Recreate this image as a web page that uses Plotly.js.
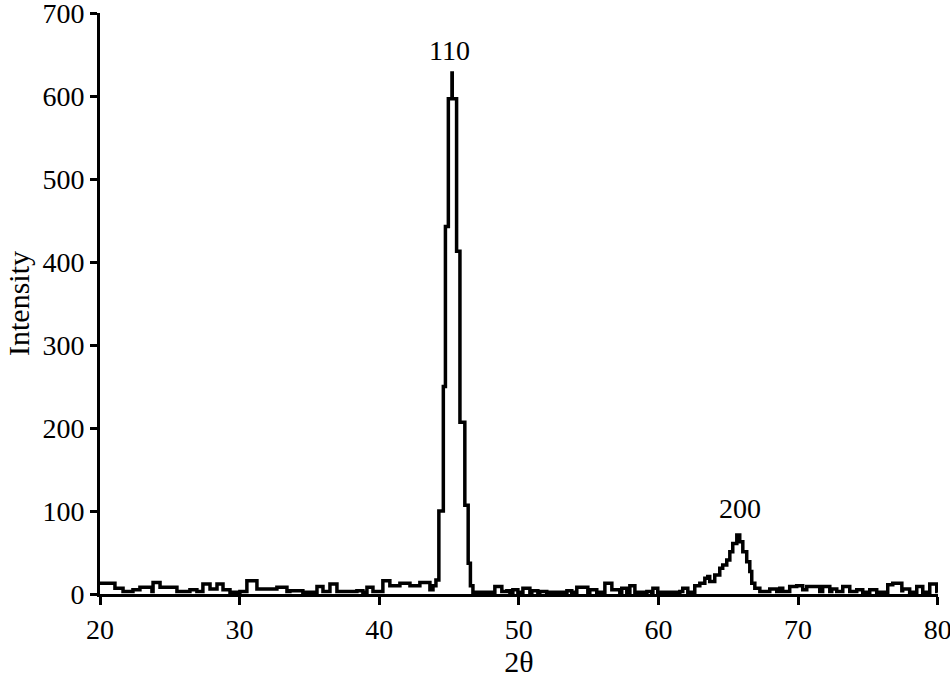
<!DOCTYPE html>
<html>
<head>
<meta charset="utf-8">
<script src="https://cdn.plot.ly/plotly-3.0.1.min.js"></script>
<style>
  html, body { margin: 0; padding: 0; background: #fff; }
  #chart { width: 950px; height: 679px; }
</style>
</head>
<body>
<div id="chart"></div>
<script>
// ----- data (2θ in degrees, intensity in counts) -----
const twoTheta = [
  20.00, 21.07, 21.65, 22.36, 22.86, 23.72, 23.80, 24.30, 25.51, 26.44,
  26.94, 27.37, 27.88, 28.38, 28.81, 29.31, 29.81, 30.02, 30.52, 31.24,
  32.67, 33.39, 33.60, 34.53, 35.54, 35.97, 36.47, 36.97, 38.40, 38.83,
  39.12, 39.55, 40.26, 40.76, 41.48, 42.20, 42.91, 43.63, 43.85,
  44.06, 44.27, 44.59, 44.74, 44.95, 45.21, 45.23, 45.54, 45.78, 46.13,
  46.37, 46.53, 46.71,
  48.28, 48.78, 49.14, 49.36, 49.57, 49.93, 50.29, 50.79, 50.93, 51.36,
  51.50, 52.00, 53.44, 53.79, 54.15, 54.94, 55.08, 55.58, 56.16, 56.66,
  57.23, 57.37, 57.73, 57.95, 58.31, 59.17, 59.52, 59.60, 59.95, 61.53,
  61.74, 62.10, 62.46, 62.60, 62.96, 63.32, 63.53, 63.67, 64.03, 64.39,
  64.60, 64.89, 65.11, 65.32, 65.61, 65.82, 66.04, 66.32, 66.54, 66.68,
  66.90, 67.26, 67.97, 68.47, 68.69, 68.90, 69.40, 69.90, 70.33, 70.62,
  71.55, 71.76, 72.27, 72.41, 72.77, 73.20, 73.70, 74.20, 74.63, 75.13,
  75.63, 76.42, 76.78, 77.43, 77.49, 77.99, 78.50, 78.93, 79.43, 79.93,
  80.00
];
const intensity = [
  13, 7, 3, 5, 8, 3, 14, 8, 3, 5,
  3, 12, 6, 12, 5, 2, 1, 3, 16, 6,
  8, 3, 4, 2, 9, 3, 12, 3, 4, 2,
  8, 3, 16, 10, 13, 10, 14, 5, 10,
  17, 100, 250, 443, 597, 628, 597, 413, 207, 107,
  37, 10, 2,
  9, 3, 4, 2, 5, 2, 7, 2, 4, 2,
  3, 2, 4, 2, 8, 2, 5, 2, 13, 5,
  2, 7, 2, 10, 2, 3, 2, 7, 2, 3,
  7, 2, 2, 10, 13, 19, 21, 15, 23, 31,
  35, 41, 51, 61, 71, 63, 51, 39, 27, 13,
  7, 3, 6, 3, 7, 3, 9, 10, 5, 9,
  3, 9, 3, 6, 3, 9, 3, 5, 2, 5,
  2, 11, 13, 4, 6, 2, 9, 2, 12, 3,
  2
];

// peak labels (Miller indices)
const peakLabels = ["110", "200"];
const peakX = [45.06, 65.82];
const peakY = [655, 103];

const axisFont = { family: "Liberation Serif, Times New Roman, serif", size: 28, color: "#000" };
const titleFont = { family: "Liberation Serif, Times New Roman, serif", size: 30, color: "#000" };

const trace = {
  x: twoTheta,
  y: intensity,
  type: "scatter",
  mode: "lines",
  line: { color: "#000", width: 3.5, shape: "hv" },
  hoverinfo: "skip"
};

const layout = {
  width: 950,
  height: 679,
  margin: { l: 100, r: 12, t: 13, b: 85 },
  paper_bgcolor: "#fff",
  plot_bgcolor: "#fff",
  showlegend: false,
  font: axisFont,
  xaxis: {
    range: [20, 80.02],
    tickvals: [20, 30, 40, 50, 60, 70, 80],
    ticktext: ["20", "30", "40", "50", "60", "70", "80"],
    ticklabeloverflow: "allow",
    showgrid: false,
    zeroline: false,
    showline: true,
    linecolor: "#000",
    linewidth: 3,
    ticks: "outside",
    ticklen: 8,
    tickwidth: 3,
    tickcolor: "#000",
    tickfont: axisFont,
    title: { text: "2θ", font: titleFont, standoff: 4 }
  },
  yaxis: {
    range: [0, 700.3],
    tickvals: [0, 100, 200, 300, 400, 500, 600, 700],
    ticktext: ["0", "100", "200", "300", "400", "500", "600", "700"],
    ticklabeloverflow: "allow",
    showgrid: false,
    zeroline: false,
    showline: true,
    linecolor: "#000",
    linewidth: 3,
    ticks: "outside",
    ticklen: 7,
    tickwidth: 3,
    tickcolor: "#000",
    tickfont: axisFont,
    title: { text: "Intensity", font: titleFont, standoff: 4 }
  },
  annotations: peakLabels.map((t, i) => ({
    x: peakX[i],
    y: peakY[i],
    text: t,
    showarrow: false,
    font: axisFont
  }))
};

Plotly.newPlot("chart", [trace], layout, { displayModeBar: false, staticPlot: true });
</script>
</body>
</html>
